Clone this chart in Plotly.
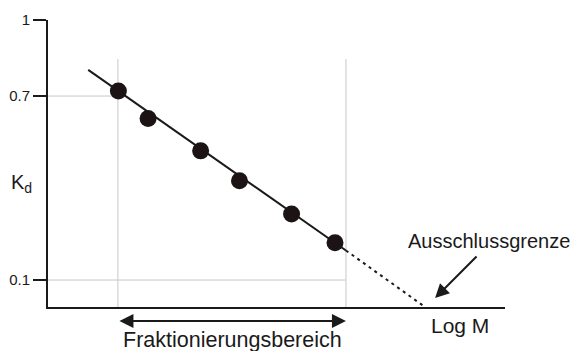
import plotly.graph_objects as go

# --- data (schematic units: x = log M, y = position on the K_d axis) ---
point_logm = [1.54, 2.19, 3.34, 4.19, 5.33, 6.28]
point_kd = [7.53, 6.57, 5.44, 4.40, 3.24, 2.24]

fit_solid_x = [0.88, 6.52]
fit_solid_y = [8.26, 1.97]
fit_dotted_x = [6.52, 8.25]
fit_dotted_y = [1.97, 0.0]

ytick_vals = [10, 7.35, 0.94]
ytick_text = ["1", "0.7", "0.1"]

range_low = 1.53     # Fraktionierungsbereich lower bound (log M)
range_high = 6.52    # Fraktionierungsbereich upper bound (log M)
grid_top = 8.64
exclusion_x = 8.47   # Ausschlussgrenze

FONT = "Liberation Sans, Arial, sans-serif"
INK = "#1a1a1a"
GRID = "#c8c8c8"

fig = go.Figure()

fig.add_trace(go.Scatter(x=fit_solid_x, y=fit_solid_y, mode="lines",
                         line=dict(color=INK, width=2), showlegend=False))
fig.add_trace(go.Scatter(x=fit_dotted_x, y=fit_dotted_y, mode="lines",
                         line=dict(color=INK, width=2, dash="3px,4px"), showlegend=False))
fig.add_trace(go.Scatter(x=point_logm, y=point_kd, mode="markers",
                         marker=dict(color="#1c1414", size=17), showlegend=False))

# grid guide lines
shapes = [
    dict(type="line", xref="x", yref="y", x0=range_low, x1=range_low, y0=0, y1=grid_top,
         line=dict(color=GRID, width=1), layer="below"),
    dict(type="line", xref="x", yref="y", x0=range_high, x1=range_high, y0=0, y1=grid_top,
         line=dict(color=GRID, width=1), layer="below"),
    dict(type="line", xref="x", yref="y", x0=0, x1=range_low, y0=ytick_vals[1], y1=ytick_vals[1],
         line=dict(color=GRID, width=1), layer="below"),
    dict(type="line", xref="x", yref="y", x0=0, x1=range_high, y0=ytick_vals[2], y1=ytick_vals[2],
         line=dict(color=GRID, width=1), layer="below"),
]

annotations = [
    dict(text="K<sub>d</sub>", x=-0.057, y=4.32, xref="paper", yref="y", showarrow=False,
         xanchor="center", yanchor="middle",
         font=dict(family=FONT, size=20, color=INK)),
    dict(text="Ausschlussgrenze", x=9.66, y=2.30, xref="x", yref="y", showarrow=False,
         xanchor="center", yanchor="middle",
         font=dict(family=FONT, size=20, color=INK)),
    dict(text="", x=exclusion_x, y=0.31, ax=9.41, ay=1.81, xref="x", yref="y",
         axref="x", ayref="y", showarrow=True, arrowhead=2, arrowsize=1.4,
         arrowwidth=2, arrowcolor=INK),
    dict(text="Log M", x=9.02, y=-0.063, xref="x", yref="paper", showarrow=False,
         xanchor="center", yanchor="middle",
         font=dict(family=FONT, size=21, color=INK)),
    dict(text="Fraktionierungsbereich", x=(range_low + range_high) / 2 + 0.02, y=-0.115,
         xref="x", yref="paper", showarrow=False, xanchor="center", yanchor="middle",
         font=dict(family=FONT, size=21.5, color=INK)),
    dict(text="", x=range_high, y=-0.049, ax=range_low, ay=0, xref="x", yref="paper",
         axref="x", ayref="pixel", showarrow=True, arrowhead=2, startarrowhead=2,
         arrowside="end+start", arrowsize=1.4, startarrowsize=1.4,
         arrowwidth=2, arrowcolor=INK),
]

fig.update_layout(
    width=577, height=343,
    margin=dict(l=40, r=80, t=12, b=44, autoexpand=False),
    paper_bgcolor="white", plot_bgcolor="white",
    shapes=shapes, annotations=annotations,
    xaxis=dict(range=[0, 10], showline=True, linecolor=INK, linewidth=2, automargin=False,
               showgrid=False, zeroline=False, showticklabels=False, ticks=""),
    yaxis=dict(range=[0, 10], showline=True, linecolor=INK, linewidth=2, automargin=False,
               showgrid=False, zeroline=False, tickvals=ytick_vals, ticktext=ytick_text,
               ticks="outside", ticklen=13, tickwidth=2, tickcolor=INK,
               ticklabelstandoff=0,
               tickfont=dict(family=FONT, size=15, color=INK)),
    font=dict(family=FONT, color=INK),
)

fig.write_html("out.html")
